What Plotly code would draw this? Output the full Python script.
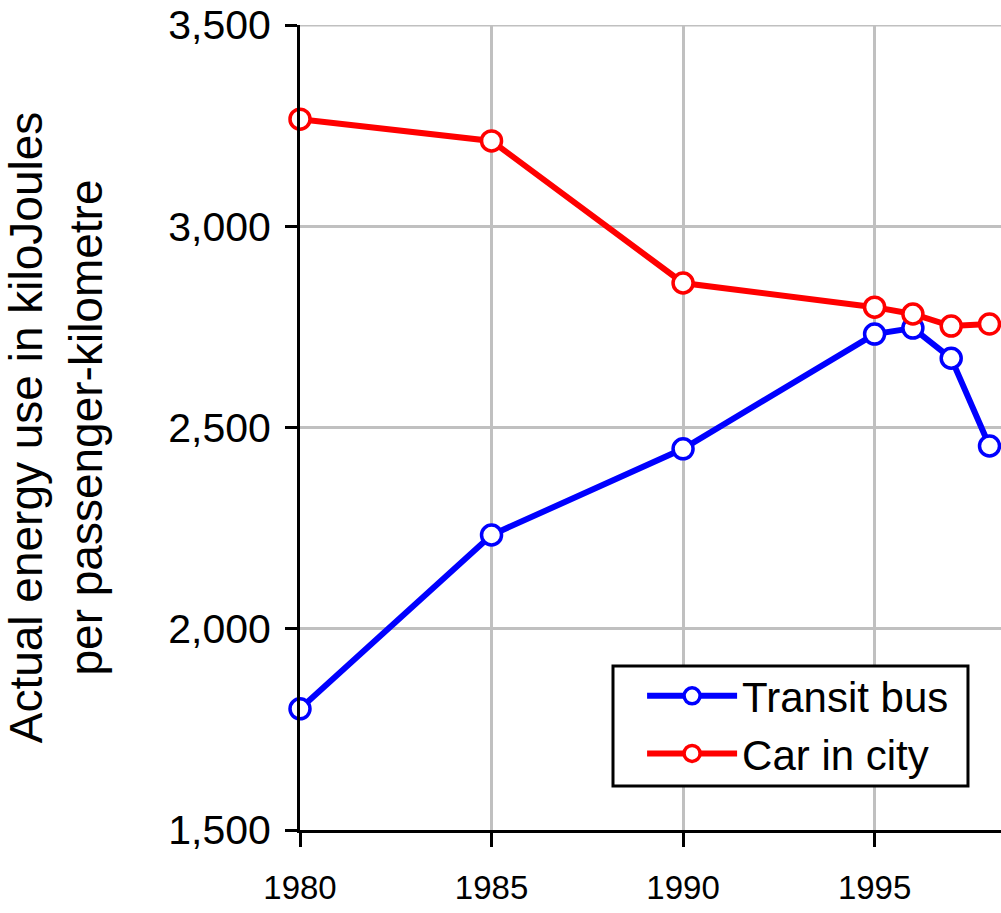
import plotly.graph_objects as go

years = [1980, 1985, 1990, 1995, 1996, 1997, 1998]
transit_bus = [1801, 2233, 2447, 2732, 2747, 2672, 2454]
car_in_city = [3266, 3212, 2859, 2799, 2782, 2752, 2757]

y_ticks = [1500, 2000, 2500, 3000, 3500]
y_tick_labels = ["1,500", "2,000", "2,500", "3,000", "3,500"]
x_ticks = [1980, 1985, 1990, 1995]
x_tick_labels = ["1980", "1985", "1990", "1995"]

fig = go.Figure()
fig.add_trace(go.Scatter(
    x=years, y=transit_bus, name="Transit bus", mode="lines+markers",
    line=dict(color="#0000ff", width=6), cliponaxis=False,
    marker=dict(symbol="circle", size=20, color="white", line=dict(color="#0000ff", width=3.5)),
))
fig.add_trace(go.Scatter(
    x=years, y=car_in_city, name="Car in city", mode="lines+markers",
    line=dict(color="#ff0000", width=6), cliponaxis=False,
    marker=dict(symbol="circle", size=20, color="white", line=dict(color="#ff0000", width=3.5)),
))

# top gridline at the end of the range
fig.add_shape(type="line", xref="paper", yref="y", x0=0, x1=1, y0=y_ticks[-1], y1=y_ticks[-1],
              line=dict(color="#c0c0c0", width=3), layer="below")

# legend frame (drawn as a shape so it can have inner padding)
fig.add_shape(type="rect", xref="paper", yref="paper",
              x0=0.4465, x1=0.9529, y0=0.0547, y1=0.2037,
              line=dict(color="black", width=3), fillcolor="white", layer="above")

fig.update_layout(
    width=1001, height=913,
    margin=dict(l=300, r=0, t=25, b=83, autoexpand=False),
    paper_bgcolor="white", plot_bgcolor="white",
    font=dict(family="Liberation Sans, Arial, sans-serif", size=40, color="black"),
    showlegend=True,
    legend=dict(
        x=0.488, y=0.2087, xanchor="left", yanchor="top",
        borderwidth=0, bgcolor="rgba(0,0,0,0)",
        font=dict(size=42), itemwidth=90, tracegroupgap=0,
    ),
    xaxis=dict(
        range=[1980, 1998.3], tickvals=x_ticks, ticktext=x_tick_labels,
        showgrid=True, gridcolor="#c0c0c0", gridwidth=3,
        showline=True, linecolor="black", linewidth=3,
        ticks="outside", ticklen=14, tickwidth=3, tickcolor="black",
        tickfont=dict(size=33), ticklabelstandoff=12, automargin=False,
        zeroline=False,
    ),
    yaxis=dict(
        range=[1500, 3500], tickvals=y_ticks, ticktext=y_tick_labels,
        showgrid=True, gridcolor="#c0c0c0", gridwidth=3,
        showline=True, linecolor="black", linewidth=3,
        ticks="outside", ticklen=12, tickwidth=3, tickcolor="black",
        tickfont=dict(size=41), ticklabelstandoff=6, ticklabeloverflow="allow",
        automargin=False,
        title=dict(text="Actual energy use in kiloJoules<br>per passenger-kilometre",
                   font=dict(size=46), standoff=57),
        zeroline=False,
    ),
)

fig.write_html("out.html", config={"displayModeBar": False},
               post_script="document.body.style.margin='0';")
